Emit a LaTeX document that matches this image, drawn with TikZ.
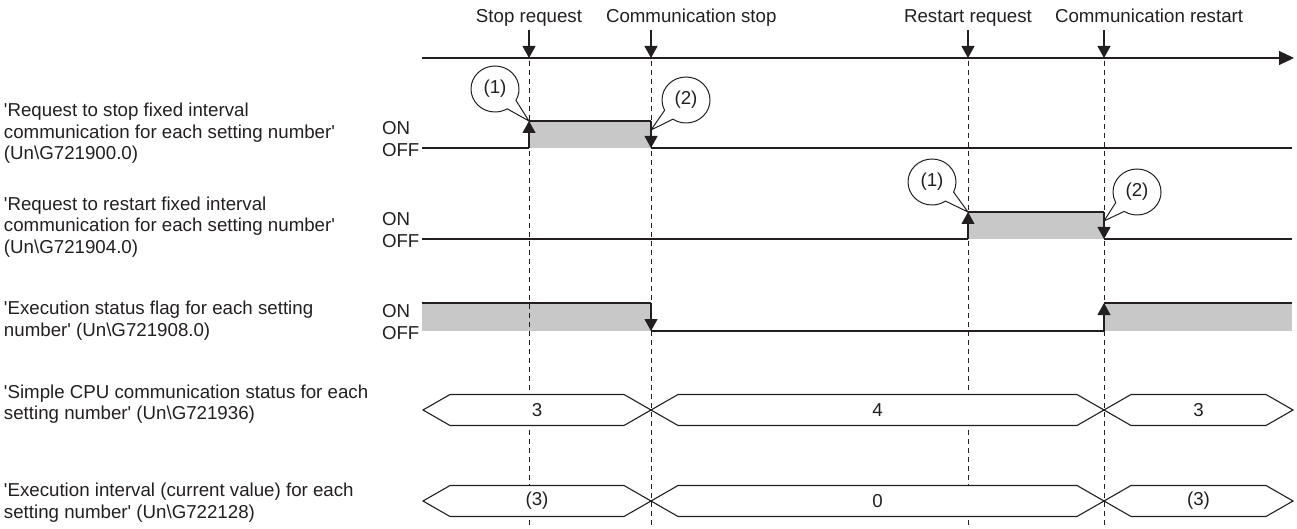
\documentclass[tikz,border=0pt]{standalone}
\usepackage{fontspec}
\setmainfont{Liberation Sans}
\usetikzlibrary{arrows.meta,shapes.callouts}
\definecolor{fillgray}{RGB}{200,200,200}
\definecolor{ink}{RGB}{35,31,32}
\newcommand\sq{\textquotesingle}
\newcommand\hexseg[3]{%
  \draw[busline] (#1,#3) -- ({#1+27},{#3-15.5}) -- ({#2-27},{#3-15.5}) -- (#2,#3)
    -- ({#2-27},{#3+15.5}) -- ({#1+27},{#3+15.5}) -- cycle;}
\begin{document}
\begin{tikzpicture}[x=1pt,y=-1pt,
  every node/.style={inner sep=0pt, outer sep=0pt, font=\fontsize{18.7}{21.5}\selectfont, text=ink},
  sig/.style={draw=ink, line width=1.1pt},
  guide/.style={draw=ink, line width=0.9pt, dash pattern=on 5pt off 4pt},
  edgetip/.style={-{Triangle[width=13pt,length=12pt]}},
  busline/.style={draw=ink, line width=1.1pt, fill=white, line join=miter},
  shade/.style={fill=fillgray, draw=none},
  callnum/.style={ellipse callout, draw=ink, fill=white, line width=1pt,
    minimum width=48pt, minimum height=46pt, callout pointer arc=30},
  lefttext/.style={anchor=west, align=left},
  onoff/.style={anchor=west}
]
\useasboundingbox (0,0) rectangle (1297,529);

% event positions
\coordinate (eA) at (529,58);
\coordinate (eB) at (651,58);
\coordinate (eC) at (968,58);
\coordinate (eD) at (1104,58);

% gray fills
\fill[shade] (529,121) rectangle (651,148);
\fill[shade] (968,212) rectangle (1104,239);
\fill[shade] (422,303) rectangle (651,331);
\fill[shade] (1104,303) rectangle (1292,331);

% dashed guides
\foreach \c in {eA,eB,eC,eD}
  \draw[guide] ([yshift=-3pt]\c) -- (\c |- 0,529);

% timeline
\coordinate (tl0) at (422,58);
\coordinate (tl1) at (1294,58);
\draw[sig, -{Triangle[width=14pt,length=15pt]}] (tl0) -- (tl1);

% event labels and arrows
\node[anchor=base] (lA) at (529,23) {Stop request};
\node[anchor=base west] (lB) at (606,23) {Communication stop};
\node[anchor=base] (lC) at (968,23) {Restart request};
\node[anchor=base west] (lD) at (1055,23) {Communication restart};
\foreach \c in {eA,eB,eC,eD}
  \draw[sig, edgetip] ([yshift=28pt]\c) -- (\c);

% left labels
\node[lefttext] (n1) at (4,133.4) {\sq Request to stop fixed interval\\communication for each setting number\sq\\(Un\textbackslash G721900.0)};
\node[lefttext] (n2) at (4,226.9) {\sq Request to restart fixed interval\\communication for each setting number\sq\\(Un\textbackslash G721904.0)};
\node[lefttext] (n3) at (4,320.9) {\sq Execution status flag for each setting\\number\sq{} (Un\textbackslash G721908.0)};
\node[lefttext] (n4) at (4,404.4) {\sq Simple CPU communication status for each\\setting number\sq{} (Un\textbackslash G721936)};
\node[lefttext] (n5) at (4,502.6) {\sq Execution interval (current value) for each\\setting number\sq{} (Un\textbackslash G722128)};

% ON/OFF labels
\node[onoff] (on1) at (382,128) {ON};
\node[onoff] (off1) at (382,150) {OFF};
\node[onoff] (on2) at (382,219) {ON};
\node[onoff] (off2) at (382,241) {OFF};
\node[onoff] (on3) at (382,311) {ON};
\node[onoff] (off3) at (382,333) {OFF};

% signal 1
\draw[sig] (422,148) -- (529,148);
\draw[sig, edgetip] (529,148) -- (529,121);
\draw[sig] (529,121) -- (651,121);
\draw[sig, edgetip] (651,121) -- (651,148);
\draw[sig] (651,148) -- (1292,148);

% signal 2
\draw[sig] (422,239) -- (968,239);
\draw[sig, edgetip] (968,239) -- (968,212);
\draw[sig] (968,212) -- (1104,212);
\draw[sig, edgetip] (1104,212) -- (1104,239);
\draw[sig] (1104,239) -- (1292,239);

% signal 3
\draw[sig] (422,303) -- (651,303);
\draw[sig, edgetip] (651,303) -- (651,331);
\draw[sig] (651,331) -- (1104,331);
\draw[sig, edgetip] (1104,331) -- (1104,303);
\draw[sig] (1104,303) -- (1292,303);

% bus 4
\hexseg{423}{651}{410}
\hexseg{651}{1104}{410}
\hexseg{1104}{1293}{410}
\node (b41) at (537,410) {3};
\node (b42) at (877.5,410) {4};
\node (b43) at (1198.5,410) {3};

% bus 5
\hexseg{423}{651}{501}
\hexseg{651}{1104}{501}
\hexseg{1104}{1293}{501}
\node (b51) at (537,501) {(3)};
\node (b52) at (877.5,501) {0};
\node (b53) at (1198.5,501) {(3)};

% callouts
\node[callnum, callout absolute pointer={(529,121)}] (c1a) at (495,89) {(1)};
\node[callnum, callout absolute pointer={(651,130)}] (c2a) at (686,100) {(2)};
\node[callnum, callout absolute pointer={(968,212)}] (c1b) at (932,182) {(1)};
\node[callnum, callout absolute pointer={(1104,221)}] (c2b) at (1137,192) {(2)};
\end{tikzpicture}
\end{document}
